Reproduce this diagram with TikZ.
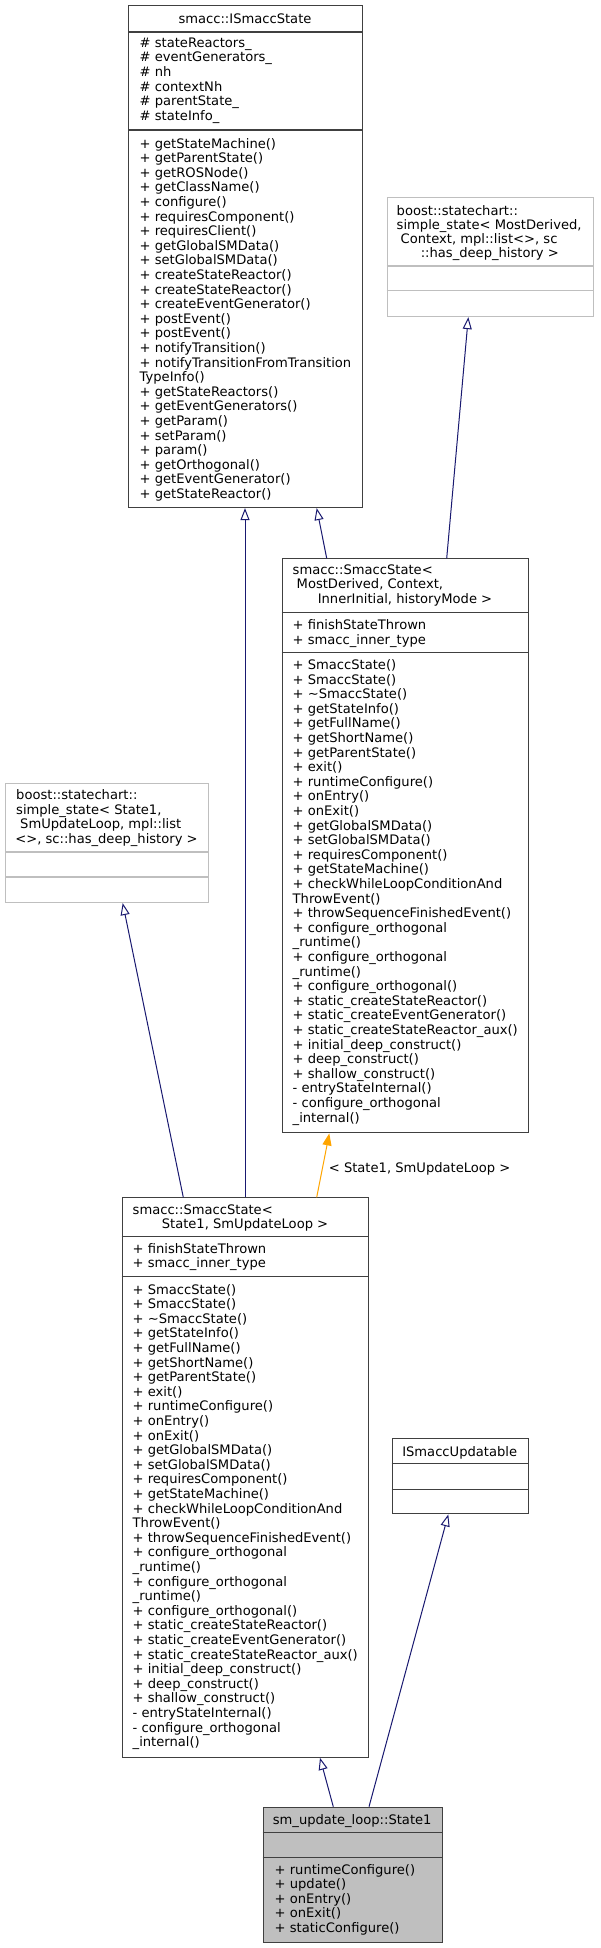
\documentclass[tikz,border=0pt]{standalone}
\usepackage{fontspec}
\setmainfont{DejaVu Sans}
\usetikzlibrary{arrows.meta}
\definecolor{edgeblue}{HTML}{191970}
\definecolor{boxgray}{HTML}{404040}
\definecolor{lightbox}{HTML}{BFBFBF}
\definecolor{fillgray}{HTML}{BFBFBF}
\definecolor{tmplorange}{HTML}{FFA500}

% list of text lines: prefix, x, y of first line centre, list macro
\newcommand\mlines[4]{%
  \foreach \t [count=\i from 0] in #4 {%
    \node[txt] (#1\i) at (#2, {#3+\i*14.6+4.7}) {\t};}}
\newcommand\tl[4]{\node[txt] (#1) at (#2, {#3+4.7}) {#4};}
\newcommand\tc[4]{\node[ctxt] (#1) at (#2, {#3+4.7}) {#4};}
\newcommand\hsep[3][boxgray]{\draw[#1, line width=1.1pt] ([yshift=-#3pt]#2.north west) -- ([yshift=-#3pt]#2.north east);}

\def\isslistA{\# stateReactors\_,\# eventGenerators\_,\# nh,\# contextNh,\# parentState\_,\# stateInfo\_}
\def\isslistB{+ getStateMachine(),+ getParentState(),+ getROSNode(),+ getClassName(),+ configure(),+ requiresComponent(),+ requiresClient(),+ getGlobalSMData(),+ setGlobalSMData(),+ createStateReactor(),+ createStateReactor(),+ createEventGenerator(),+ postEvent(),+ postEvent(),+ notifyTransition(),+ notifyTransitionFromTransition,TypeInfo(),+ getStateReactors(),+ getEventGenerators(),+ getParam(),+ setParam(),+ param(),+ getOrthogonal(),+ getEventGenerator(),+ getStateReactor()}
\def\smattr{+ finishStateThrown,+ smacc\_inner\_type}
\def\smlist{+ SmaccState(),+ SmaccState(),+ \textasciitilde SmaccState(),+ getStateInfo(),+ getFullName(),+ getShortName(),+ getParentState(),+ exit(),+ runtimeConfigure(),+ onEntry(),+ onExit(),+ getGlobalSMData(),+ setGlobalSMData(),+ requiresComponent(),+ getStateMachine(),+ checkWhileLoopConditionAnd,ThrowEvent(),+ throwSequenceFinishedEvent(),+ configure\_orthogonal,\_runtime(),+ configure\_orthogonal,\_runtime(),+ configure\_orthogonal(),+ static\_createStateReactor(),+ static\_createEventGenerator(),+ static\_createStateReactor\_aux(),+ initial\_deep\_construct(),+ deep\_construct(),+ shallow\_construct(),- entryStateInternal(),- configure\_orthogonal,\_internal()}
\def\stlist{+ runtimeConfigure(),+ update(),+ onEntry(),+ onExit(),+ staticConfigure()}

\begin{document}
\begin{tikzpicture}[x=1pt,y=-1pt,
  box/.style={draw=boxgray, line width=1.1pt, inner sep=0pt, anchor=north west},
  extbox/.style={draw=lightbox, line width=1.1pt, inner sep=0pt, anchor=north west},
  txt/.style={inner sep=0pt, font=\fontsize{13.1}{14.6}\selectfont, anchor=base west},
  ctxt/.style={txt, anchor=base},
  inh/.style={draw=edgeblue, line width=1pt, -{Triangle[open, length=12pt, width=9pt]}},
  tmpl/.style={draw=tmplorange, line width=1pt, -{Triangle[length=12pt, width=9pt, fill=tmplorange]}},
]
\useasboundingbox (0,0) rectangle (600,1948);
\fill[white] (0,0) rectangle (600,1948);

% ---- boxes ----
\node[box, minimum width=234pt, minimum height=502pt] (iss) at (128,5) {};
\node[extbox, minimum width=206.3pt, minimum height=119.3pt] (btr) at (386.7,196.7) {};
\node[box, minimum width=246.6pt, minimum height=574pt] (smd) at (281.7,558.3) {};
\node[extbox, minimum width=203pt, minimum height=119pt] (bl) at (5,783) {};
\node[box, minimum width=246.6pt, minimum height=559.4pt] (sst) at (121.7,1197.3) {};
\node[box, minimum width=136pt, minimum height=75pt] (upd) at (391.7,1438.3) {};
\node[box, fill=fillgray, minimum width=179pt, minimum height=135pt] (st1) at (262.7,1806.7) {};

% ---- separators ----
\hsep{iss}{27}\hsep{iss}{125}
\hsep[lightbox]{btr}{69.3}\hsep[lightbox]{btr}{94}
\hsep{smd}{54.4}\hsep{smd}{94.4}
\hsep[lightbox]{bl}{69}\hsep[lightbox]{bl}{94}
\hsep{sst}{39.4}\hsep{sst}{79.4}
\hsep{upd}{25}\hsep{upd}{51}
\hsep{st1}{26}\hsep{st1}{50.6}

% ---- texts: smacc::ISmaccState ----
\tc{issT}{245}{18.5}{smacc::ISmaccState}
\mlines{issA}{139.5}{42.7}{\isslistA}
\mlines{issM}{139.5}{143.3}{\isslistB}

% ---- boost (top right) ----
\tl{btr1}{396.5}{211}{boost::statechart::}
\tl{btr2}{396.5}{225}{simple\_state< MostDerived,}
\tl{btr3}{400.5}{239}{Context, mpl::list<>, sc}
\tc{btr4}{489.8}{253}{::has\_deep\_history >}

% ---- smacc::SmaccState< MostDerived ... > ----
\tl{smd1}{292.5}{569.5}{smacc::SmaccState<}
\tl{smd2}{296.5}{584}{MostDerived, Context,}
\tc{smd3}{405}{598.6}{InnerInitial, historyMode >}
\mlines{smdA}{292.5}{625}{\smattr}
\mlines{smdM}{292.5}{664.7}{\smlist}

% ---- boost (left) ----
\tl{bl1}{16}{794.8}{boost::statechart::}
\tl{bl2}{16}{809.4}{simple\_state< State1,}
\tl{bl3}{20}{824}{SmUpdateLoop, mpl::list}
\tc{bl4}{106.5}{838.6}{<>, sc::has\_deep\_history >}

% ---- smacc::SmaccState< State1, SmUpdateLoop > ----
\tl{sst1}{132.5}{1209.5}{smacc::SmaccState<}
\tc{sst2}{245}{1224}{State1, SmUpdateLoop >}
\mlines{sstA}{132.5}{1248.3}{\smattr}
\mlines{sstM}{132.5}{1289.3}{\smlist}

% ---- ISmaccUpdatable ----
\tc{updT}{459.7}{1451.7}{ISmaccUpdatable}

% ---- sm_update_loop::State1 ----
\tc{st1T}{352.2}{1820}{sm\_update\_loop::State1}
\mlines{st1M}{274.5}{1869.3}{\stlist}

% ---- connectors ----
\draw[inh] ([xshift=45pt]smd.north west) -- ([xshift=188.7pt]iss.south west);
\draw[inh] ([xshift=165pt]smd.north west) -- ([xshift=81.6pt]btr.south west);
\draw[inh] ([xshift=123.3pt]sst.north west) -- ([xshift=117pt]iss.south west);
\draw[inh] ([xshift=61.6pt]sst.north west) -- ([xshift=117.7pt]bl.south west);
\draw[tmpl] ([xshift=195pt]sst.north west) -- node[txt, anchor=west, xshift=6pt, pos=0.45] (lbl) {< State1, SmUpdateLoop >} ([xshift=47.6pt]smd.south west);
\draw[inh] ([xshift=70.6pt]st1.north west) -- ([xshift=198.3pt]sst.south west);
\draw[inh] ([xshift=106.3pt]st1.north west) -- ([xshift=56.6pt]upd.south west);
\end{tikzpicture}
\end{document}
